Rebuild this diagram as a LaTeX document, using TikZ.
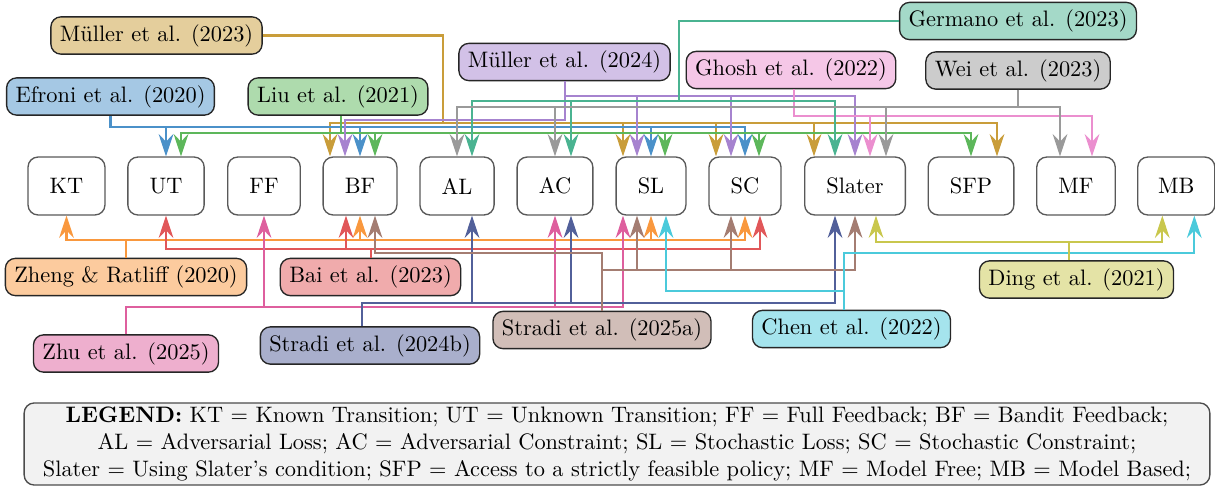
\documentclass[tikz,border=0pt]{standalone}
\usetikzlibrary{arrows.meta,calc}

% connector colours; box fills are these mixed half with white
\definecolor{cGold}{HTML}{C99D3A}
\definecolor{cBlue}{HTML}{4B91C9}
\definecolor{cGreen}{HTML}{5DB75B}
\definecolor{cPurple}{HTML}{A683CF}
\definecolor{cPink}{HTML}{EB8FCF}
\definecolor{cTeal}{HTML}{4AB391}
\definecolor{cGray}{HTML}{9A9A9A}
\definecolor{cOrange}{HTML}{F9983E}
\definecolor{cRed}{HTML}{E15759}
\definecolor{cMagenta}{HTML}{DE5F9E}
\definecolor{cNavy}{HTML}{52609A}
\definecolor{cBrown}{HTML}{A47D72}
\definecolor{cCyan}{HTML}{4BCADB}
\definecolor{cOlive}{HTML}{C9C74D}

\tikzset{
  catbox/.style={draw=black!65, line width=0.6pt, rounded corners=4.5pt, fill=white,
    minimum height=25.9pt, inner xsep=9.7pt},
  paper/.style={draw=black!85, line width=0.6pt, rounded corners=4.5pt, fill=#1!50,
    minimum height=16.5pt, inner xsep=4pt},
  lk/.style={draw=#1, line width=0.9pt, -{Stealth[length=10pt,width=6.6pt,inset=3.4pt]}},
}

% connector: start point, down/up to a level, across, then into the target anchor
\newcommand\conn[5]{%
  \path (0,#3) coordinate (lvl);
  \draw[lk=#1] (#2) -- (#2 |- lvl) -| ($(#4)+(#5,0)$);}

\begin{document}
\begin{tikzpicture}[x=0.447pt, y=-0.447pt]
\useasboundingbox (0,0) rectangle (1215,487);

% categories
\node[catbox] (KT) at (66.5,186) {KT};
\node[catbox] (UT) at (166,186) {UT};
\node[catbox] (FF) at (264,186) {FF};
\node[catbox] (BF) at (360,186) {BF};
\node[catbox] (AL) at (457,186) {AL};
\node[catbox] (AC) at (555,186) {AC};
\node[catbox] (SL) at (651,186) {SL};
\node[catbox] (SC) at (745,186) {SC};
\node[catbox] (Slater) at (855,186) {Slater};
\node[catbox] (SFP) at (971,186) {SFP};
\node[catbox] (MF) at (1076,186) {MF};
\node[catbox, inner xsep=9.1pt] (MB) at (1176.3,186) {MB};

% papers above
\node[paper=cGold]   (m23)     at (156.5,35.5) {Müller et al. (2023)};
\node[paper=cBlue]   (efroni)  at (110.5,96.5) {Efroni et al. (2020)};
\node[paper=cGreen]  (liu)     at (338,96.5)   {Liu et al. (2021)};
\node[paper=cPurple] (m24)     at (564.5,62)   {Müller et al. (2024)};
\node[paper=cPink]   (ghosh)   at (791,70)     {Ghosh et al. (2022)};
\node[paper=cTeal]   (germano) at (1018,21)    {Germano et al. (2023)};
\node[paper=cGray]   (wei)     at (1018,70.5)  {Wei et al. (2023)};

% papers below
\node[paper=cOrange]  (zheng) at (126,277)    {Zheng \& Ratliff (2020)};
\node[paper=cRed]     (bai)   at (370.5,277)  {Bai et al. (2023)};
\node[paper=cMagenta] (zhu)   at (126,353.5)  {Zhu et al. (2025)};
\node[paper=cNavy]    (s24b)  at (370,345.5)  {Stradi et al. (2024b)};
\node[paper=cBrown]   (s25a)  at (602,330)    {Stradi et al. (2025a)};
\node[paper=cCyan]    (chen)  at (851.5,329)  {Chen et al. (2022)};
\node[paper=cOlive]   (ding)  at (1076.5,279.5) {Ding et al. (2021)};

% start points of the connectors
\coordinate (sLiu)   at ($(liu.south)+(3,0)$);
\coordinate (sGhosh) at ($(ghosh.south)+(3,0)$);
\coordinate (sS24b)  at ($(s24b.north)+(-8,0)$);
\coordinate (sChen)  at ($(chen.north)+(-8,0)$);
\coordinate (sDing)  at ($(ding.north)+(-8,0)$);

% Müller et al. (2023)
\foreach \t/\o in {BF/-30, SL/-28, SC/-29, Slater/-41, SFP/26}
  {\draw[lk=cGold] (m23.east) -| (443,123) -| ($(\t.north)+(\o,0)$);}
% Efroni et al. (2020)
\foreach \t in {UT, BF, SL, SC}
  {\conn{cBlue}{efroni.south}{127}{\t.north}{0}}
% Liu et al. (2021)
\foreach \t/\o in {UT/15, BF/15, SL/14, SC/14, SFP/0}
  {\conn{cGreen}{sLiu}{133}{\t.north}{\o}}
% Müller et al. (2024)
\conn{cPurple}{m24.south}{120}{BF.north}{-15}
\foreach \t/\o in {SL/-14, SC/-14, Slater/0}
  {\conn{cPurple}{m24.south}{96}{\t.north}{\o}}
% Ghosh et al. (2022)
\foreach \t/\o in {Slater/15, MF/16}
  {\conn{cPink}{sGhosh}{116}{\t.north}{\o}}
% Germano et al. (2023)
\foreach \t/\o in {AL/15, AC/16, Slater/-20}
  {\draw[lk=cTeal] (germano.west) -| (679,101) -| ($(\t.north)+(\o,0)$);}
% Wei et al. (2023)
\foreach \t/\o in {AL/0, AC/0, Slater/31, MF/-16}
  {\conn{cGray}{wei.south}{107}{\t.north}{\o}}

% Zheng & Ratliff (2020)
\foreach \t in {KT, BF, SL, SC}
  {\conn{cOrange}{zheng.north}{240}{\t.south}{0}}
% Bai et al. (2023)
\foreach \t/\o in {UT/0, BF/-14, SC/15}
  {\conn{cRed}{bai.north}{249}{\t.south}{\o}}
% Zhu et al. (2025)
\foreach \t/\o in {FF/0, AC/0, SL/-28}
  {\conn{cMagenta}{zhu.north}{307}{\t.south}{\o}}
% Stradi et al. (2024b)
\foreach \t/\o in {AL/15, AC/16, Slater/-20}
  {\conn{cNavy}{sS24b}{303}{\t.south}{\o}}
% Stradi et al. (2025a)
\conn{cBrown}{s25a.north}{253}{BF.south}{15}
\foreach \t/\o in {SL/-14, SC/-14, Slater/0}
  {\conn{cBrown}{s25a.north}{270}{\t.south}{\o}}
% Chen et al. (2022)
\conn{cCyan}{sChen}{291}{SL.south}{15}
\conn{cCyan}{sChen}{253}{MB.south}{18}
% Ding et al. (2021)
\foreach \t/\o in {Slater/21, MB/-14}
  {\conn{cOlive}{sDing}{242}{\t.south}{\o}}

% legend
\node[draw=black!70, line width=0.6pt, rounded corners=4.5pt, fill=gray!10,
      minimum width=530pt, minimum height=36.7pt, align=center, inner sep=1pt]
  (legend) at (617,444)
  {\textbf{LEGEND:} KT = Known Transition; UT = Unknown Transition; FF = Full Feedback; BF = Bandit Feedback;\\
   AL = Adversarial Loss; AC = Adversarial Constraint; SL = Stochastic Loss; SC = Stochastic Constraint;\\
   Slater = Using Slater's condition; SFP = Access to a strictly feasible policy; MF = Model Free; MB = Model Based;};
\end{tikzpicture}
\end{document}
